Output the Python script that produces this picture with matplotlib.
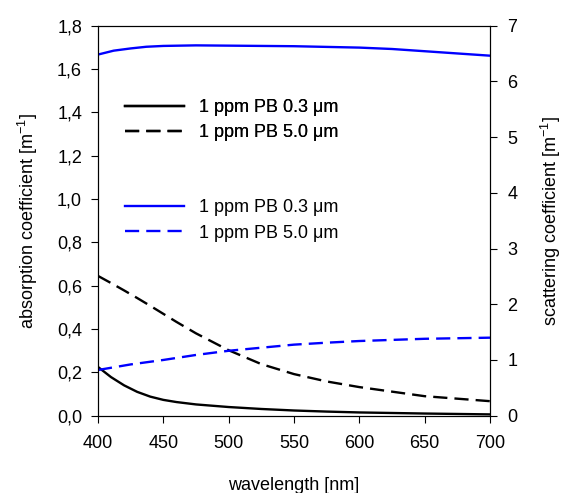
import matplotlib
matplotlib.use("Agg")
import matplotlib.pyplot as plt
from matplotlib.ticker import FuncFormatter, MultipleLocator

plt.rcParams["font.family"] = ["Liberation Sans", "DejaVu Sans"]
plt.rcParams["mathtext.fontset"] = "custom"
plt.rcParams["mathtext.rm"] = "Liberation Sans"

# absorption coefficient [1/m], left axis
wl_abs = [400, 410, 420, 430, 440, 450, 460, 475, 500, 525, 550, 575, 600, 650, 700]
abs_03 = [0.225, 0.178, 0.140, 0.110, 0.088, 0.073, 0.063, 0.052, 0.040, 0.031,
          0.024, 0.019, 0.015, 0.010, 0.006]
abs_50 = [0.645, 0.612, 0.578, 0.543, 0.507, 0.470, 0.433, 0.380, 0.302, 0.238,
          0.192, 0.158, 0.132, 0.090, 0.067]

# scattering coefficient [1/m], right axis
wl_sca_03 = [400, 412, 425, 437, 450, 475, 500, 550, 600, 625, 650, 675, 700]
sca_03 = [6.48, 6.55, 6.59, 6.62, 6.635, 6.645, 6.64, 6.63, 6.605, 6.58, 6.54, 6.50, 6.46]
wl_sca_50 = [400, 425, 450, 475, 500, 525, 550, 575, 600, 650, 700]
sca_50 = [0.82, 0.92, 1.00, 1.09, 1.165, 1.22, 1.275, 1.31, 1.34, 1.38, 1.40]

labels = ["1 ppm PB 0.3 μm", "1 ppm PB 5.0 μm"]

fig = plt.figure(figsize=(5.67, 4.93), dpi=100)
ax = fig.add_axes([0.1728, 0.1568, 0.6914, 0.7913])
ax2 = ax.twinx()

lw = 1.7
dash = (6, 3)
l1, = ax.plot(wl_abs, abs_03, color="black", lw=lw)
l2, = ax.plot(wl_abs, abs_50, color="black", lw=lw, dashes=dash)
l3, = ax2.plot(wl_sca_03, sca_03, color="#0000ff", lw=lw)
l4, = ax2.plot(wl_sca_50, sca_50, color="#0000ff", lw=lw, dashes=dash)

ax.set_xlim(400, 700)
ax.set_ylim(0, 1.8)
ax2.set_ylim(0, 7)
ax.xaxis.set_major_locator(MultipleLocator(50))
ax.yaxis.set_major_locator(MultipleLocator(0.2))
ax2.yaxis.set_major_locator(MultipleLocator(1))
ax.yaxis.set_major_formatter(FuncFormatter(lambda v, p: f"{v:.1f}".replace(".", ",")))

fs = 13
for a in (ax, ax2):
    a.tick_params(direction="out", length=5, width=0.8, labelsize=fs)
    for s in a.spines.values():
        s.set_linewidth(0.8)
ax.tick_params(axis="x", pad=9)
ax.tick_params(axis="y", pad=6.5)
ax2.tick_params(axis="y", pad=7.5)

ax.set_xlabel("wavelength [nm]", fontsize=fs, labelpad=18)
ax.set_ylabel("absorption coefficient [m$^{\\mathregular{-1}}$]", fontsize=fs, labelpad=12)
ax2.set_ylabel("scattering coefficient [m$^{\\mathregular{-1}}$]", fontsize=fs, labelpad=15.5)

leg_kw = dict(frameon=False, fontsize=fs, handlelength=3.3, handletextpad=0.8,
              labelspacing=0.47, borderaxespad=0, borderpad=0, loc="upper left")
leg1 = ax.legend([l1, l2], labels, bbox_to_anchor=(0.068, 0.812), **leg_kw)
ax.add_artist(leg1)
ax2.legend([l3, l4], labels, bbox_to_anchor=(0.068, 0.555), **leg_kw)

fig.savefig("out.png", dpi=100)
